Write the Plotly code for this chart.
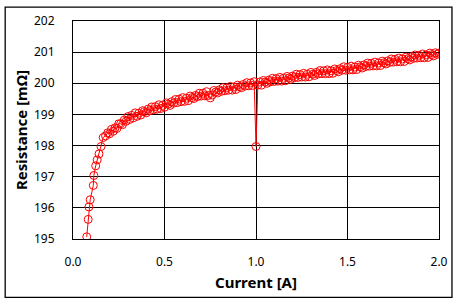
import plotly.graph_objects as go

current = [
    0.075, 0.083, 0.087, 0.094, 0.111, 0.114, 0.124, 0.132, 0.142, 0.153, 0.165, 0.178,
    0.19, 0.20, 0.21, 0.22, 0.23, 0.24, 0.25, 0.26, 0.27, 0.28, 0.29, 0.30,
    0.31, 0.32, 0.33, 0.34, 0.35, 0.36, 0.37, 0.38, 0.39, 0.40,
    0.41, 0.42, 0.43, 0.44, 0.45, 0.46, 0.47, 0.48, 0.49, 0.50,
    0.51, 0.52, 0.53, 0.54, 0.55, 0.56, 0.57, 0.58, 0.59, 0.60,
    0.61, 0.62, 0.63, 0.64, 0.65, 0.66, 0.67, 0.68, 0.69, 0.70,
    0.71, 0.72, 0.73, 0.74, 0.75, 0.76, 0.77, 0.78, 0.79, 0.80,
    0.81, 0.82, 0.83, 0.84, 0.85, 0.86, 0.87, 0.88, 0.89, 0.90,
    0.91, 0.92, 0.93, 0.94, 0.95, 0.96, 0.97, 0.98, 0.99, 1.00,
    1.01, 1.02, 1.03, 1.04, 1.05, 1.06, 1.07, 1.08, 1.09, 1.10,
    1.11, 1.12, 1.13, 1.14, 1.15, 1.16, 1.17, 1.18, 1.19, 1.20,
    1.21, 1.22, 1.23, 1.24, 1.25, 1.26, 1.27, 1.28, 1.29, 1.30,
    1.31, 1.32, 1.33, 1.34, 1.35, 1.36, 1.37, 1.38, 1.39, 1.40,
    1.41, 1.42, 1.43, 1.44, 1.45, 1.46, 1.47, 1.48, 1.49, 1.50,
    1.51, 1.52, 1.53, 1.54, 1.55, 1.56, 1.57, 1.58, 1.59, 1.60,
    1.61, 1.62, 1.63, 1.64, 1.65, 1.66, 1.67, 1.68, 1.69, 1.70,
    1.71, 1.72, 1.73, 1.74, 1.75, 1.76, 1.77, 1.78, 1.79, 1.80,
    1.81, 1.82, 1.83, 1.84, 1.85, 1.86, 1.87, 1.88, 1.89, 1.90,
    1.91, 1.92, 1.93, 1.94, 1.95, 1.96, 1.97, 1.98, 1.99, 2.00,
]

resistance = [
    195.07, 195.63, 196.03, 196.26, 196.72, 197.04, 197.35, 197.54, 197.73, 197.97, 198.26, 198.31,
    198.41, 198.38, 198.52, 198.46, 198.57, 198.55, 198.70, 198.70, 198.67, 198.82, 198.78, 198.93,
    198.84, 198.97, 198.89, 199.05, 198.94, 199.04, 198.98, 199.12, 199.09, 199.05,
    199.17, 199.12, 199.24, 199.15, 199.25, 199.17, 199.31, 199.19, 199.29, 199.23,
    199.37, 199.33, 199.29, 199.41, 199.36, 199.48, 199.38, 199.49, 199.41, 199.54,
    199.42, 199.52, 199.44, 199.59, 199.54, 199.51, 199.61, 199.57, 199.68, 199.59,
    199.68, 199.60, 199.73, 199.61, 199.53, 199.62, 199.77, 199.72, 199.69, 199.79,
    199.74, 199.86, 199.76, 199.85, 199.78, 199.90, 199.78, 199.88, 199.80, 199.94,
    199.89, 199.86, 199.96, 199.91, 200.02, 199.92, 200.01, 199.93, 200.05, 197.97,
    199.94, 200.04, 199.94, 200.09, 200.04, 200.00, 200.10, 200.05, 200.16, 200.06,
    200.15, 200.07, 200.19, 200.07, 200.16, 200.08, 200.22, 200.17, 200.13, 200.23,
    200.18, 200.29, 200.19, 200.28, 200.20, 200.32, 200.20, 200.29, 200.21, 200.35,
    200.29, 200.25, 200.35, 200.30, 200.41, 200.31, 200.40, 200.31, 200.43, 200.31,
    200.40, 200.32, 200.46, 200.41, 200.37, 200.47, 200.42, 200.53, 200.42, 200.51,
    200.43, 200.55, 200.43, 200.52, 200.44, 200.58, 200.53, 200.49, 200.59, 200.54,
    200.65, 200.55, 200.64, 200.56, 200.68, 200.56, 200.65, 200.57, 200.71, 200.66,
    200.62, 200.72, 200.67, 200.78, 200.68, 200.77, 200.69, 200.81, 200.69, 200.78,
    200.70, 200.84, 200.79, 200.75, 200.85, 200.80, 200.91, 200.81, 200.90, 200.82,
    200.94, 200.82, 200.91, 200.83, 200.97, 200.92, 200.88, 200.98, 200.93, 200.97,
]

x_title = "Current [A]"
y_title = "Resistance [mΩ]"

FONT = "Noto Sans, Open Sans, DejaVu Sans, sans-serif"

fig = go.Figure()
fig.add_trace(go.Scatter(
    x=current, y=resistance, mode="lines+markers",
    line=dict(color="#ff0000", width=1),
    marker=dict(symbol="circle-open", size=8, color="#ff0000", line=dict(width=1, color="#ff0000")),
    showlegend=False,
))

L, R, T, B = 73, 20, 19, 65
W, H = 460, 304
pw, ph = W - L - R, H - T - B

fig.update_layout(
    width=W, height=H,
    margin=dict(l=L, r=R, t=T, b=B, pad=0),
    paper_bgcolor="white", plot_bgcolor="white",
    font=dict(family=FONT, size=12, color="black"),
    xaxis=dict(
        range=[0, 2], dtick=0.5, tick0=0, tickformat=".1f",
        showgrid=True, gridcolor="black", gridwidth=1,
        showline=True, linecolor="black", linewidth=1, mirror=True,
        zeroline=False, ticks="", ticklabelstandoff=12,
        title=dict(text=x_title, font=dict(family=FONT, size=15, color="black", weight="bold"), standoff=8),
        fixedrange=True,
    ),
    yaxis=dict(
        range=[195, 202], dtick=1, tick0=195,
        showgrid=True, gridcolor="black", gridwidth=1,
        showline=True, linecolor="black", linewidth=1, mirror=True,
        zeroline=False, ticks="", ticklabelstandoff=15,
        title=dict(text=y_title, font=dict(family=FONT, size=15, color="black", weight="bold"), standoff=2),
        fixedrange=True,
    ),
)

# outer chart-area border
x0 = (5 - L) / pw
x1 = (453 - L) / pw
y1 = 1 + (T - 5) / ph
y0 = (H - B - 298) / ph
fig.add_shape(type="rect", xref="paper", yref="paper", x0=x0, x1=x1, y0=y0, y1=y1,
              line=dict(color="black", width=1.3), fillcolor="rgba(0,0,0,0)", layer="above")

fig.write_html("out.html")
